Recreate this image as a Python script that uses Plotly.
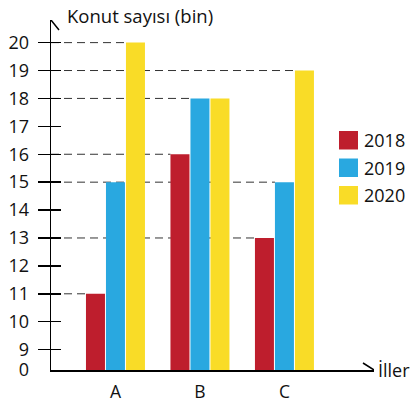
import plotly.graph_objects as go

categories = ["A", "B", "C"]
years = ["2018", "2019", "2020"]
values_2018 = [11, 16, 13]
values_2019 = [15, 18, 15]
values_2020 = [20, 18, 19]
series = [values_2018, values_2019, values_2020]
colors = ["#BE1E2D", "#29A8E0", "#F9DC27"]
tick_values = [0, 9, 10, 11, 12, 13, 14, 15, 16, 17, 18, 19, 20]

ZERO_POS = -0.73  # broken axis: 0 sits below 9


def pos(v):
    return v - 9 if v >= 9 else ZERO_POS


FONT = "Open Sans"
TXT = "#111111"
BARGAP = 0.29
GROUPGAP = 0.05
XR = [-0.763, 3.06]
YR = [ZERO_POS, 11.81]

fig = go.Figure()
xs = list(range(len(categories)))
for yr, vals, col in zip(years, series, colors):
    fig.add_trace(go.Bar(
        x=xs, y=[pos(v) - pos(0) for v in vals], base=pos(0),
        name=yr, marker=dict(color=col, line=dict(width=0)),
        showlegend=False, hoverinfo="skip",
    ))
# dummy traces for overlay axes
fig.add_trace(go.Scatter(x=[None], y=[None], yaxis="y2", showlegend=False, hoverinfo="skip"))
fig.add_trace(go.Scatter(x=[None], y=[None], yaxis="y3", showlegend=False, hoverinfo="skip"))

# dashed reference lines from axis to bar tops
slot = (1 - BARGAP) / len(series)
distinct = sorted({v for vals in series for v in vals})
shapes = []
for v in distinct:
    cands = [(i, j) for j, vals in enumerate(series) for i, val in enumerate(vals) if val == v]
    i, j = max(cands, key=lambda t: (t[0], -t[1]))
    left = i - (1 - BARGAP) / 2 + j * slot + slot * GROUPGAP / 2
    shapes.append(dict(type="line", xref="x", yref="y", x0=XR[0], x1=left,
                       y0=pos(v), y1=pos(v), layer="below",
                       line=dict(color="#333333", width=1, dash="8px,5px")))

# axis arrows
shapes.append(dict(type="path", xref="x", yref="y", xsizemode="pixel", ysizemode="pixel",
                   xanchor=XR[0], yanchor=YR[1], path="M-8,-10 L0,0 L8,-10",
                   line=dict(color="black", width=1.5)))
shapes.append(dict(type="path", xref="x", yref="y", xsizemode="pixel", ysizemode="pixel",
                   xanchor=XR[1], yanchor=YR[0], path="M-11,7 L0,0 L-11,-7",
                   line=dict(color="black", width=1.5)))

# legend (manual, larger squares)
PW, PH = 323, 350
annotations = []
for k, (yr, col) in enumerate(zip(years, colors)):
    top = 131 + k * 27.5
    shapes.append(dict(type="rect", xref="paper", yref="paper",
                       x0=(339 - 51) / PW, x1=(358 - 51) / PW,
                       y0=(370 - top - 18.5) / PH, y1=(370 - top) / PH,
                       fillcolor=col, line=dict(width=0)))
    annotations.append(dict(xref="paper", yref="paper", x=(362 - 51) / PW,
                            y=(370 - top - 9.25) / PH, xanchor="left", yanchor="middle",
                            text=yr, showarrow=False, font=dict(family=FONT, size=18, color=TXT)))

annotations.append(dict(xref="paper", yref="paper", x=(65 - 51) / PW, y=(370 - 15) / PH,
                        xanchor="left", yanchor="middle", text="Konut sayısı (bin)",
                        showarrow=False, font=dict(family=FONT, size=18.5, color=TXT)))
annotations.append(dict(xref="paper", yref="paper", x=(376 - 51) / PW, y=0,
                        xanchor="left", yanchor="middle", text="İller",
                        showarrow=False, font=dict(family=FONT, size=18, color=TXT)))

fig.update_layout(
    width=411, height=402,
    margin=dict(l=51, r=37, t=20, b=32, autoexpand=False),
    paper_bgcolor="white", plot_bgcolor="white",
    barmode="group", bargap=BARGAP, bargroupgap=GROUPGAP,
    showlegend=False,
    shapes=shapes, annotations=annotations,
    xaxis=dict(range=XR, tickvals=xs, ticktext=categories, ticks="",
               showline=True, linecolor="black", linewidth=1.5, showgrid=False,
               zeroline=False, ticklabelstandoff=5, automargin=False,
               tickfont=dict(family=FONT, size=17.5, color=TXT)),
    yaxis=dict(range=YR, tickvals=[pos(v) for v in tick_values[1:]], ticks="outside",
               ticklen=12, tickwidth=1.5, tickcolor="black", showticklabels=False,
               showline=True, linecolor="black", linewidth=1.5, showgrid=False, zeroline=False,
               automargin=False),
    yaxis2=dict(range=YR, overlaying="y", side="left", tickvals=[pos(v) for v in tick_values[1:]],
                ticks="inside", ticklen=10, tickwidth=1.5, tickcolor="black",
                showticklabels=False, showline=False, showgrid=False, zeroline=False,
                automargin=False),
    yaxis3=dict(range=YR, overlaying="y", side="left", tickvals=[pos(v) for v in tick_values],
                ticktext=[str(v) for v in tick_values], ticks="", ticklabelstandoff=21,
                showline=False, showgrid=False, zeroline=False, automargin=False,
                tickfont=dict(family=FONT, size=18, color=TXT)),
)

fig.write_html("out.html", config={"displayModeBar": False, "staticPlot": True},
               post_script="document.body.style.margin='0';document.body.style.overflow='hidden';")
